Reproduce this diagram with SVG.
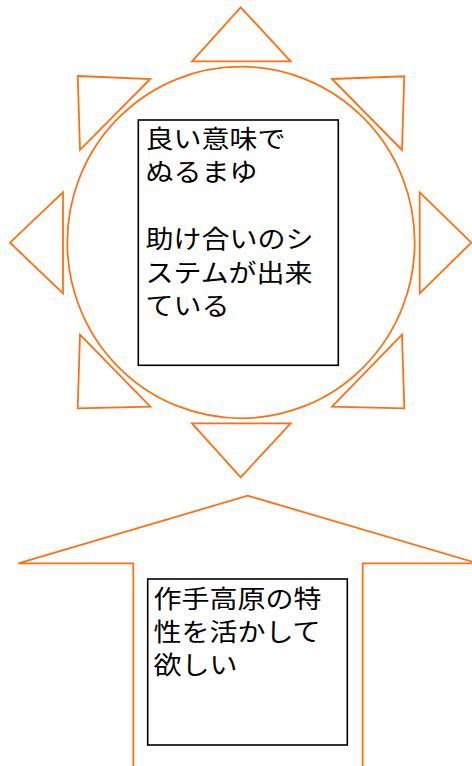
<svg xmlns="http://www.w3.org/2000/svg" width="472" height="766" viewBox="0 0 472 766">
<style>
.sh{fill:#fff;stroke:#ff7014;stroke-width:1.8;stroke-linejoin:miter}
.box{fill:#fff;stroke:#000;stroke-width:1.6}
.t{font-family:"Noto Sans CJK JP","Noto Sans CJK SC",sans-serif;font-size:25px;fill:#000}
</style>
<rect width="472" height="766" fill="#fff"/>
<g id="sun">
<ellipse class="sh" cx="241" cy="242.5" rx="173.7" ry="175.8"/>
<polygon class="sh" points="240.7,7.3 192,61.3 290.7,61.3"/>
<polygon class="sh" points="77.7,76 150.3,79 80,150"/>
<polygon class="sh" points="332,79 404.3,76.3 402,150"/>
<polygon class="sh" points="10,242.7 63,192.3 63,293.3"/>
<polygon class="sh" points="471.3,242.7 419.7,192.3 419.7,293.3"/>
<polygon class="sh" points="80,334.7 150.3,406.7 77.7,408.3"/>
<polygon class="sh" points="402,334.7 332,406.7 404.3,408.3"/>
<polygon class="sh" points="192,423.3 290.7,423.3 240.7,477.3"/>
</g>
<g id="node1">
<rect class="box" x="138.3" y="120" width="200" height="245.3"/>
<g transform="translate(145.5,0) scale(1.12,1)">
<text class="t" x="0" y="148">良い意味で</text>
<text class="t" x="0" y="181.4">ぬるまゆ</text>
<text class="t" x="0" y="248.2">助け合いのシ</text>
<text class="t" x="0" y="281.6">ステムが出来</text>
<text class="t" x="0" y="315">ている</text>
</g>
</g>
<g id="arrow">
<polyline class="sh" points="133.3,768 133.3,563.3 18.3,563.3 247.7,495.7 477.7,563.3 362.7,563.3 362.7,768"/>
</g>
<g id="node2">
<rect class="box" x="147.7" y="579" width="199.6" height="166"/>
<g transform="translate(153.5,0) scale(1.12,1)">
<text class="t" x="0" y="607.6">作手高原の特</text>
<text class="t" x="0" y="641">性を活かして</text>
<text class="t" x="0" y="674.4">欲しい</text>
</g>
</g>
<g id="connectors"/>
</svg>
